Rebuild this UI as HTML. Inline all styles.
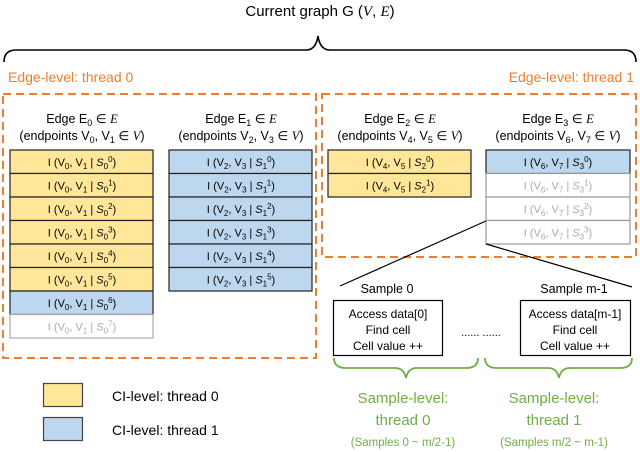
<!DOCTYPE html>
<html><head><meta charset="utf-8"><style>
body{margin:0;background:#fff}
svg{display:block}
text{font-family:"Liberation Sans",sans-serif}
</style></head><body>
<svg width="640" height="452" viewBox="0 0 640 452" xmlns="http://www.w3.org/2000/svg">
<text x="320" y="16" font-size="15" text-anchor="middle">Current graph G (<tspan font-family="Liberation Serif" font-style="italic">V</tspan>, <tspan font-family="Liberation Serif" font-style="italic">E</tspan>)</text>
<path d="M4,62 Q4,50 16,50 L306,50 Q316,50 318,36 Q320,50 330,50 L624,50 Q636,50 636,62" fill="none" stroke="#000" stroke-width="1.6"/>
<text x="8" y="82" font-size="14" fill="#ED7D31">Edge-level: thread 0</text>
<text x="634" y="82" font-size="14" fill="#ED7D31" text-anchor="end">Edge-level: thread 1</text>
<rect x="3" y="94" width="313" height="264" fill="none" stroke="#ED7D31" stroke-width="2" stroke-dasharray="8,5"/>
<rect x="322" y="94" width="314" height="163" fill="none" stroke="#ED7D31" stroke-width="2" stroke-dasharray="8,5"/>
<g font-size="12.5" text-anchor="middle">
<text x="82" y="123">Edge E<tspan font-size="9" dy="3">0</tspan><tspan dy="-3"> ∈ </tspan><tspan font-family="Liberation Serif" font-style="italic">E</tspan></text>
<text x="82" y="140">(endpoints V<tspan font-size="9" dy="3">0</tspan><tspan dy="-3">, V</tspan><tspan font-size="9" dy="3">1</tspan><tspan dy="-3"> ∈ </tspan><tspan font-family="Liberation Serif" font-style="italic">V</tspan>)</text>
<text x="241" y="123">Edge E<tspan font-size="9" dy="3">1</tspan><tspan dy="-3"> ∈ </tspan><tspan font-family="Liberation Serif" font-style="italic">E</tspan></text>
<text x="241" y="140">(endpoints V<tspan font-size="9" dy="3">2</tspan><tspan dy="-3">, V</tspan><tspan font-size="9" dy="3">3</tspan><tspan dy="-3"> ∈ </tspan><tspan font-family="Liberation Serif" font-style="italic">V</tspan>)</text>
<text x="400" y="123">Edge E<tspan font-size="9" dy="3">2</tspan><tspan dy="-3"> ∈ </tspan><tspan font-family="Liberation Serif" font-style="italic">E</tspan></text>
<text x="400" y="140">(endpoints V<tspan font-size="9" dy="3">4</tspan><tspan dy="-3">, V</tspan><tspan font-size="9" dy="3">5</tspan><tspan dy="-3"> ∈ </tspan><tspan font-family="Liberation Serif" font-style="italic">V</tspan>)</text>
<text x="558" y="123">Edge E<tspan font-size="9" dy="3">3</tspan><tspan dy="-3"> ∈ </tspan><tspan font-family="Liberation Serif" font-style="italic">E</tspan></text>
<text x="558" y="140">(endpoints V<tspan font-size="9" dy="3">6</tspan><tspan dy="-3">, V</tspan><tspan font-size="9" dy="3">7</tspan><tspan dy="-3"> ∈ </tspan><tspan font-family="Liberation Serif" font-style="italic">V</tspan>)</text>
</g>
<!-- Edge 0 rows -->
<g stroke-width="1.2" font-size="11" text-anchor="middle">
<rect x="10" y="150" width="143" height="23.5" fill="#FFE699" stroke="#222"/>
<rect x="10" y="173.5" width="143" height="23.5" fill="#FFE699" stroke="#222"/>
<rect x="10" y="197" width="143" height="23.5" fill="#FFE699" stroke="#222"/>
<rect x="10" y="220.5" width="143" height="23.5" fill="#FFE699" stroke="#222"/>
<rect x="10" y="244" width="143" height="23.5" fill="#FFE699" stroke="#222"/>
<rect x="10" y="267.5" width="143" height="23.5" fill="#FFE699" stroke="#222"/>
<rect x="10" y="291" width="143" height="23.5" fill="#BDD7EE" stroke="#222"/>
<rect x="10" y="314.5" width="143" height="23.5" fill="#fff" stroke="#aaa"/>
<text x="82" y="166">I (V<tspan font-size="8" dy="3">0</tspan><tspan dy="-3">, V</tspan><tspan font-size="8" dy="3">1</tspan><tspan dy="-3"> | </tspan><tspan font-style="italic">S</tspan><tspan font-size="8" dy="3">0</tspan><tspan font-size="8" dy="-7">0</tspan><tspan dy="4">)</tspan></text>
<text x="82" y="189.5">I (V<tspan font-size="8" dy="3">0</tspan><tspan dy="-3">, V</tspan><tspan font-size="8" dy="3">1</tspan><tspan dy="-3"> | </tspan><tspan font-style="italic">S</tspan><tspan font-size="8" dy="3">0</tspan><tspan font-size="8" dy="-7">1</tspan><tspan dy="4">)</tspan></text>
<text x="82" y="213">I (V<tspan font-size="8" dy="3">0</tspan><tspan dy="-3">, V</tspan><tspan font-size="8" dy="3">1</tspan><tspan dy="-3"> | </tspan><tspan font-style="italic">S</tspan><tspan font-size="8" dy="3">0</tspan><tspan font-size="8" dy="-7">2</tspan><tspan dy="4">)</tspan></text>
<text x="82" y="236.5">I (V<tspan font-size="8" dy="3">0</tspan><tspan dy="-3">, V</tspan><tspan font-size="8" dy="3">1</tspan><tspan dy="-3"> | </tspan><tspan font-style="italic">S</tspan><tspan font-size="8" dy="3">0</tspan><tspan font-size="8" dy="-7">3</tspan><tspan dy="4">)</tspan></text>
<text x="82" y="260">I (V<tspan font-size="8" dy="3">0</tspan><tspan dy="-3">, V</tspan><tspan font-size="8" dy="3">1</tspan><tspan dy="-3"> | </tspan><tspan font-style="italic">S</tspan><tspan font-size="8" dy="3">0</tspan><tspan font-size="8" dy="-7">4</tspan><tspan dy="4">)</tspan></text>
<text x="82" y="283.5">I (V<tspan font-size="8" dy="3">0</tspan><tspan dy="-3">, V</tspan><tspan font-size="8" dy="3">1</tspan><tspan dy="-3"> | </tspan><tspan font-style="italic">S</tspan><tspan font-size="8" dy="3">0</tspan><tspan font-size="8" dy="-7">5</tspan><tspan dy="4">)</tspan></text>
<text x="82" y="307">I (V<tspan font-size="8" dy="3">0</tspan><tspan dy="-3">, V</tspan><tspan font-size="8" dy="3">1</tspan><tspan dy="-3"> | </tspan><tspan font-style="italic">S</tspan><tspan font-size="8" dy="3">0</tspan><tspan font-size="8" dy="-7">6</tspan><tspan dy="4">)</tspan></text>
<text x="82" y="330.5" fill="#aaa">I (V<tspan font-size="8" dy="3">0</tspan><tspan dy="-3">, V</tspan><tspan font-size="8" dy="3">1</tspan><tspan dy="-3"> | </tspan><tspan font-style="italic">S</tspan><tspan font-size="8" dy="3">0</tspan><tspan font-size="8" dy="-7">7</tspan><tspan dy="4">)</tspan></text>

<!-- Edge 1 -->
<rect x="169" y="150" width="143" height="23.5" fill="#BDD7EE" stroke="#222"/>
<rect x="169" y="173.5" width="143" height="23.5" fill="#BDD7EE" stroke="#222"/>
<rect x="169" y="197" width="143" height="23.5" fill="#BDD7EE" stroke="#222"/>
<rect x="169" y="220.5" width="143" height="23.5" fill="#BDD7EE" stroke="#222"/>
<rect x="169" y="244" width="143" height="23.5" fill="#BDD7EE" stroke="#222"/>
<rect x="169" y="267.5" width="143" height="23.5" fill="#BDD7EE" stroke="#222"/>
<text x="241" y="166">I (V<tspan font-size="8" dy="3">2</tspan><tspan dy="-3">, V</tspan><tspan font-size="8" dy="3">3</tspan><tspan dy="-3"> | </tspan><tspan font-style="italic">S</tspan><tspan font-size="8" dy="3">1</tspan><tspan font-size="8" dy="-7">0</tspan><tspan dy="4">)</tspan></text>
<text x="241" y="189.5">I (V<tspan font-size="8" dy="3">2</tspan><tspan dy="-3">, V</tspan><tspan font-size="8" dy="3">3</tspan><tspan dy="-3"> | </tspan><tspan font-style="italic">S</tspan><tspan font-size="8" dy="3">1</tspan><tspan font-size="8" dy="-7">1</tspan><tspan dy="4">)</tspan></text>
<text x="241" y="213">I (V<tspan font-size="8" dy="3">2</tspan><tspan dy="-3">, V</tspan><tspan font-size="8" dy="3">3</tspan><tspan dy="-3"> | </tspan><tspan font-style="italic">S</tspan><tspan font-size="8" dy="3">1</tspan><tspan font-size="8" dy="-7">2</tspan><tspan dy="4">)</tspan></text>
<text x="241" y="236.5">I (V<tspan font-size="8" dy="3">2</tspan><tspan dy="-3">, V</tspan><tspan font-size="8" dy="3">3</tspan><tspan dy="-3"> | </tspan><tspan font-style="italic">S</tspan><tspan font-size="8" dy="3">1</tspan><tspan font-size="8" dy="-7">3</tspan><tspan dy="4">)</tspan></text>
<text x="241" y="260">I (V<tspan font-size="8" dy="3">2</tspan><tspan dy="-3">, V</tspan><tspan font-size="8" dy="3">3</tspan><tspan dy="-3"> | </tspan><tspan font-style="italic">S</tspan><tspan font-size="8" dy="3">1</tspan><tspan font-size="8" dy="-7">4</tspan><tspan dy="4">)</tspan></text>
<text x="241" y="283.5">I (V<tspan font-size="8" dy="3">2</tspan><tspan dy="-3">, V</tspan><tspan font-size="8" dy="3">3</tspan><tspan dy="-3"> | </tspan><tspan font-style="italic">S</tspan><tspan font-size="8" dy="3">1</tspan><tspan font-size="8" dy="-7">5</tspan><tspan dy="4">)</tspan></text>

<!-- Edge 2 -->
<rect x="328" y="150" width="143" height="23.5" fill="#FFE699" stroke="#222"/>
<rect x="328" y="173.5" width="143" height="23.5" fill="#FFE699" stroke="#222"/>
<text x="400" y="166">I (V<tspan font-size="8" dy="3">4</tspan><tspan dy="-3">, V</tspan><tspan font-size="8" dy="3">5</tspan><tspan dy="-3"> | </tspan><tspan font-style="italic">S</tspan><tspan font-size="8" dy="3">2</tspan><tspan font-size="8" dy="-7">0</tspan><tspan dy="4">)</tspan></text>
<text x="400" y="189.5">I (V<tspan font-size="8" dy="3">4</tspan><tspan dy="-3">, V</tspan><tspan font-size="8" dy="3">5</tspan><tspan dy="-3"> | </tspan><tspan font-style="italic">S</tspan><tspan font-size="8" dy="3">2</tspan><tspan font-size="8" dy="-7">1</tspan><tspan dy="4">)</tspan></text>

<!-- Edge 3 -->
<rect x="486" y="150" width="144" height="23.5" fill="#BDD7EE" stroke="#222"/>
<rect x="486" y="173.5" width="144" height="23.5" fill="#fff" stroke="#999"/>
<rect x="486" y="197" width="144" height="23.5" fill="#fff" stroke="#999"/>
<rect x="486" y="220.5" width="144" height="23.5" fill="#fff" stroke="#999"/>
<text x="558" y="166">I (V<tspan font-size="8" dy="3">6</tspan><tspan dy="-3">, V</tspan><tspan font-size="8" dy="3">7</tspan><tspan dy="-3"> | </tspan><tspan font-style="italic">S</tspan><tspan font-size="8" dy="3">3</tspan><tspan font-size="8" dy="-7">0</tspan><tspan dy="4">)</tspan></text>
<text x="558" y="189.5" fill="#aaa">I (V<tspan font-size="8" dy="3">6</tspan><tspan dy="-3">, V</tspan><tspan font-size="8" dy="3">7</tspan><tspan dy="-3"> | </tspan><tspan font-style="italic">S</tspan><tspan font-size="8" dy="3">3</tspan><tspan font-size="8" dy="-7">1</tspan><tspan dy="4">)</tspan></text>
<text x="558" y="213" fill="#aaa">I (V<tspan font-size="8" dy="3">6</tspan><tspan dy="-3">, V</tspan><tspan font-size="8" dy="3">7</tspan><tspan dy="-3"> | </tspan><tspan font-style="italic">S</tspan><tspan font-size="8" dy="3">3</tspan><tspan font-size="8" dy="-7">2</tspan><tspan dy="4">)</tspan></text>
<text x="558" y="236.5" fill="#aaa">I (V<tspan font-size="8" dy="3">6</tspan><tspan dy="-3">, V</tspan><tspan font-size="8" dy="3">7</tspan><tspan dy="-3"> | </tspan><tspan font-style="italic">S</tspan><tspan font-size="8" dy="3">3</tspan><tspan font-size="8" dy="-7">3</tspan><tspan dy="4">)</tspan></text>
</g>
<line x1="486" y1="221" x2="340" y2="286" stroke="#000" stroke-width="1.2"/>
<line x1="486" y1="244" x2="632" y2="287" stroke="#000" stroke-width="1.2"/>
<g font-size="12.5" text-anchor="middle">
<text x="387" y="293">Sample 0</text>
<text x="574" y="293">Sample m-1</text>
<rect x="333.5" y="300.5" width="109" height="55" fill="#fff" stroke="#000" stroke-width="1.2"/>
<rect x="520.5" y="300.5" width="110" height="55" fill="#fff" stroke="#000" stroke-width="1.2"/>
<text x="388" y="318" font-size="12">Access data[0]</text>
<text x="388" y="334" font-size="12">Find cell</text>
<text x="388" y="350" font-size="12">Cell value ++</text>
<text x="575" y="318" font-size="12">Access data[m-1]</text>
<text x="575" y="334" font-size="12">Find cell</text>
<text x="575" y="350" font-size="12">Cell value ++</text>
<text x="481" y="336" font-size="11">...... ......</text>
</g>
<g fill="none" stroke="#70AD47" stroke-width="1.8">
<path d="M334,358 Q334,368 346,368 L395,368 Q404,368 406,378 Q408,368 417,368 L466,368 Q478,368 478,358"/>
<path d="M485,358 Q485,368 497,368 L548,368 Q557,368 559,378 Q561,368 570,368 L620,368 Q632,368 632,358"/>
</g>
<g fill="#70AD47" text-anchor="middle">
<text x="403" y="403" font-size="15">Sample-level:</text>
<text x="403" y="425" font-size="15">thread 0</text>
<text x="403" y="446" font-size="11.5">(Samples 0  ~ m/2-1)</text>
<text x="554" y="403" font-size="15">Sample-level:</text>
<text x="554" y="425" font-size="15">thread 1</text>
<text x="554" y="446" font-size="11.5">(Samples m/2 ~ m-1)</text>
</g>
<rect x="43.5" y="383.5" width="39" height="23" fill="#FFE699" stroke="#444" stroke-width="1.2"/>
<rect x="43.5" y="417.5" width="39" height="23" fill="#BDD7EE" stroke="#444" stroke-width="1.2"/>
<text x="112" y="401" font-size="14">CI-level: thread 0</text>
<text x="112" y="435" font-size="14">CI-level: thread 1</text>
</svg>
</body></html>
